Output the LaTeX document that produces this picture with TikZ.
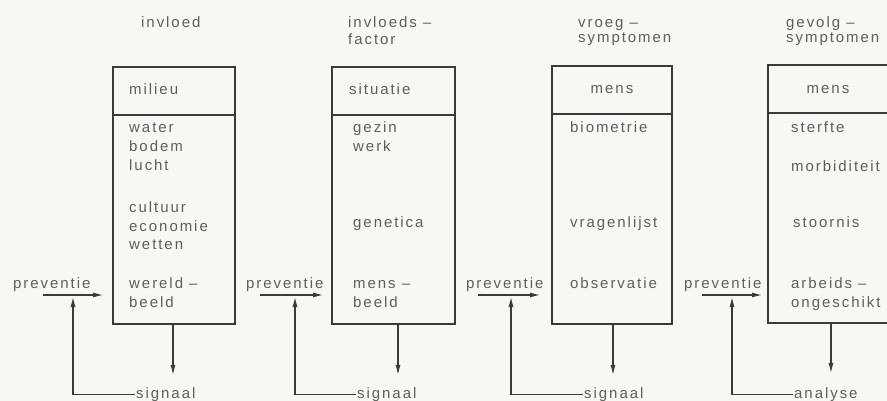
\documentclass[tikz,border=0pt]{standalone}
\usepackage{fontspec}
\setmainfont[LetterSpace=13]{Liberation Sans}
\usetikzlibrary{arrows.meta}
\definecolor{bg}{HTML}{F7F7F3}
\definecolor{ink}{HTML}{3A3A3A}
\definecolor{txt}{HTML}{5E5E5E}
\tikzset{
  lbl/.style={text=txt, inner sep=1pt, anchor=base west, font=\fontsize{15}{19}\selectfont},
  boxst/.style={draw=ink, line width=2.6pt, inner sep=0pt, outer sep=0pt},
  divline/.style={draw=ink, line width=2.6pt},
  conn/.style={draw=ink, line width=1.1pt},
  arr/.style={conn, -{Latex[length=10pt,width=5pt]}}
}
\begin{document}
\begin{tikzpicture}[x=1pt,y=-1pt]
\useasboundingbox (0,0) rectangle (887,401);
\fill[bg] (0,0) rectangle (887,401);
\clip (0,0) rectangle (887,401);

% boxes
\node[boxst, minimum width=122pt, minimum height=257pt] (b1) at (174,195.5) {};
\node[boxst, minimum width=123pt, minimum height=257pt] (b2) at (393.5,195.5) {};
\node[boxst, minimum width=120pt, minimum height=258pt] (b3) at (612,195) {};
\node[boxst, minimum width=122pt, minimum height=258pt] (b4) at (829,194) {};
\draw[divline] (b1.west |- 0,115) -- (b1.east |- 0,115);
\draw[divline] (b2.west |- 0,115) -- (b2.east |- 0,115);
\draw[divline] (b3.west |- 0,114) -- (b3.east |- 0,114);
\draw[divline] (b4.west |- 0,113) -- (b4.east |- 0,113);

% headers
\node[lbl] (h1) at (140,28) {invloed};
\node[lbl] (h2a) at (347,28) {invloeds –};
\node[lbl] (h2b) at (347,45) {factor};
\node[lbl] (h3a) at (577,28) {vroeg –};
\node[lbl] (h3b) at (577,43) {symptomen};
\node[lbl] (h4a) at (785,28) {gevolg –};
\node[lbl] (h4b) at (785,43) {symptomen};

% top compartments
\node[lbl] (m1) at (128,95) {milieu};
\node[lbl] (m2) at (348,95) {situatie};
\node[lbl, anchor=base] (m3) at (612,94) {mens};
\node[lbl, anchor=base] (m4) at (828,94) {mens};

% box 1 body
\node[lbl] (t1a) at (128,133) {water};
\node[lbl] (t1b) at (128,152) {bodem};
\node[lbl] (t1c) at (128,171) {lucht};
\node[lbl] (t1d) at (128,212) {cultuur};
\node[lbl] (t1e) at (128,231) {economie};
\node[lbl] (t1f) at (128,250) {wetten};
\node[lbl] (t1g) at (128,288) {wereld –};
\node[lbl] (t1h) at (128,307) {beeld};
% box 2 body
\node[lbl] (t2a) at (352,133) {gezin};
\node[lbl] (t2b) at (352,152) {werk};
\node[lbl] (t2c) at (352,228) {genetica};
\node[lbl] (t2d) at (352,288) {mens –};
\node[lbl] (t2e) at (352,307) {beeld};
% box 3 body
\node[lbl] (t3a) at (569,133) {biometrie};
\node[lbl] (t3b) at (569,228) {vragenlijst};
\node[lbl] (t3c) at (569,288) {observatie};
% box 4 body
\node[lbl] (t4a) at (790,133) {sterfte};
\node[lbl] (t4b) at (790,172) {morbiditeit};
\node[lbl] (t4c) at (792,228) {stoornis};
\node[lbl] (t4d) at (790,288) {arbeids –};
\node[lbl] (t4e) at (790,307) {ongeschikt};

% preventie labels
\node[lbl] (pv1) at (12,288) {preventie};
\node[lbl] (pv2) at (245,288) {preventie};
\node[lbl] (pv3) at (465,288) {preventie};
\node[lbl] (pv4) at (683,288) {preventie};

% bottom labels
\node[lbl] (s1) at (135,398) {signaal};
\node[lbl] (s2) at (356,398) {signaal};
\node[lbl] (s3) at (583,398) {signaal};
\node[lbl] (s4) at (793,398) {analyse};

% preventie arrow starts and feedback ends
\coordinate (p1) at (43,295);
\coordinate (p2) at (260,295);
\coordinate (p3) at (478,295);
\coordinate (p4) at (702,295);
\coordinate (f1) at (73,297);
\coordinate (f2) at (295,297);
\coordinate (f3) at (511,297);
\coordinate (f4) at (732,297);

% preventie arrows into boxes
\draw[arr, shorten >=10pt] (p1) -- (p1 -| b1.west);
\draw[arr, shorten >=9pt] (p2) -- (p2 -| b2.west);
\draw[arr, shorten >=12pt] (p3) -- (p3 -| b3.west);
\draw[arr, shorten >=6pt] (p4) -- (p4 -| b4.west);

% output arrows
\draw[arr, shorten >=11pt] ([xshift=-1pt]b1.south) -- ([xshift=-1pt]b1.south |- s1.north);
\draw[arr, shorten >=11pt] ([xshift=4.5pt]b2.south) -- ([xshift=4.5pt]b2.south |- s2.north);
\draw[arr, shorten >=11pt] ([xshift=1pt]b3.south) -- ([xshift=1pt]b3.south |- s3.north);
\draw[arr, shorten >=13pt] ([xshift=2pt]b4.south) -- ([xshift=2pt]b4.south |- s4.north);

% feedback lines
\draw[arr] (s1.west) -| (f1);
\draw[arr] (s2.west) -| (f2);
\draw[arr] (s3.west) -| (f3);
\draw[arr] (s4.west) -| (f4);
\end{tikzpicture}
\end{document}
